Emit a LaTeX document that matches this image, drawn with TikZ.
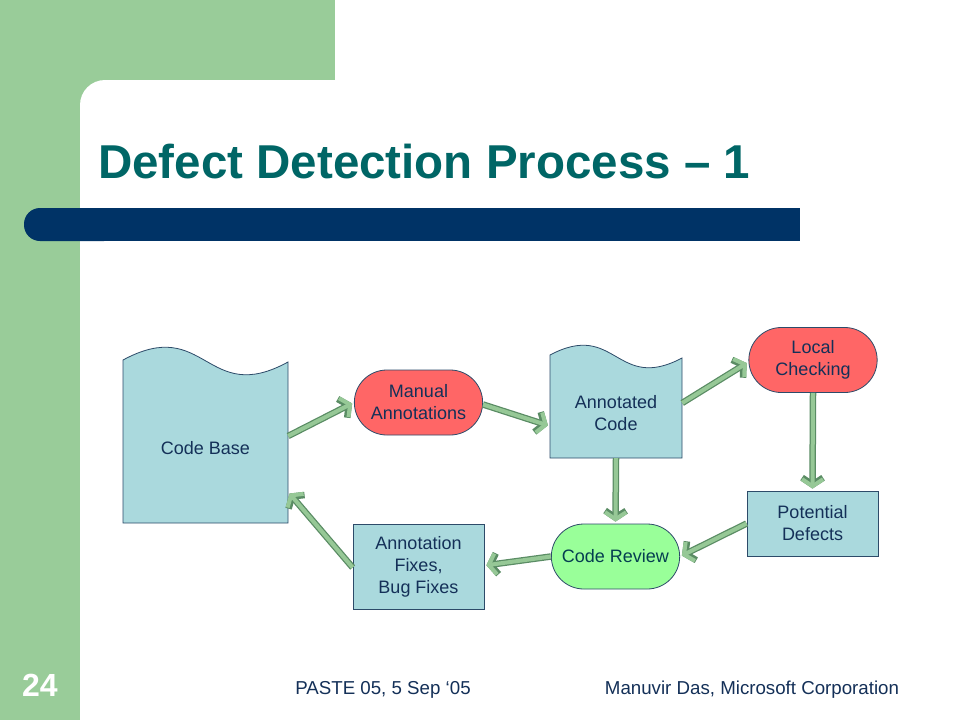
\documentclass[tikz,border=0pt]{standalone}
\usepackage{fontspec}
\setmainfont{Liberation Sans}
\usetikzlibrary{arrows.meta}
\usetikzlibrary{calc}
\usetikzlibrary{shapes.misc}

\definecolor{slidegreen}{RGB}{153,204,153}
\definecolor{barblue}{RGB}{0,51,102}
\definecolor{titleteal}{RGB}{0,102,102}
\definecolor{boxblue}{RGB}{170,217,221}
\definecolor{edgeblue}{RGB}{45,75,105}
\definecolor{termred}{RGB}{255,102,102}
\definecolor{termgreen}{RGB}{153,255,153}
\definecolor{arrowfill}{RGB}{150,200,150}
\definecolor{arrowedge}{RGB}{90,140,100}
\definecolor{textblue}{RGB}{20,48,88}

\tikzset{
    boxnode/.style={rectangle,draw=edgeblue,fill=boxblue,line width=0.8pt,align=center,
        text=textblue,font=\fontsize{18}{22}\selectfont},
    termnode/.style={rounded rectangle,draw=edgeblue,line width=0.8pt,align=center,
        minimum width=135pt,minimum height=65pt,text=textblue,font=\fontsize{18}{22}\selectfont},
    docfill/.style={draw=edgeblue,fill=boxblue,line width=0.8pt},
    flow/.style={preaction={draw=arrowedge,line width=6.5pt,-{Straight Barb[length=7pt,width=21pt]}},
        draw=arrowfill,line width=4pt,-{Straight Barb[length=7pt,width=21pt]},shorten >=2pt}
}

\begin{document}
\begin{tikzpicture}[x=1pt,y=-1pt]
        \useasboundingbox (0,0) rectangle (960,720);
        % slide background
        \fill[slidegreen] (0,0) rectangle (335,720);
        \fill[white,rounded corners=25pt] (80,80) rectangle (1000,760);
        \fill[barblue,rounded corners=16pt] (24,208) rectangle (120,241);
        \fill[barblue] (60,208) rectangle (800,241);
        \node[anchor=base west,text=titleteal,font=\fontsize{47.5}{50}\bfseries\selectfont,inner sep=0pt] (title) at (98,178) {Defect Detection Process -- 1};

        % document shapes
        \fill[docfill] (123,523) -- (123,360) .. controls (206,315) and (206,407) .. (288,362) -- (288,523) -- cycle;
        \fill[docfill] (550,458) -- (550,355) .. controls (616,320) and (616,393) .. (682,358) -- (682,458) -- cycle;
        \node[minimum width=165pt,minimum height=176pt] (CB) at (205.5,435) {};
        \node[text=textblue,font=\fontsize{18}{22}\selectfont] (CBt) at (205.5,448) {Code Base};
        \node[minimum width=132pt,minimum height=110pt] (AC) at (616,403) {};
        \node[align=center,text=textblue,font=\fontsize{18}{22}\selectfont] (ACt) at (616,413) {Annotated\\Code};

        \node[termnode,fill=termred] (MA) at (418.5,402.5) {Manual\\Annotations};
        \node[termnode,fill=termred] (LC) at (813,360) {Local\\Checking};
        \node[termnode,fill=termgreen,text={rgb,255:red,5;green,62;blue,80}] (CR) at (615.5,556.5) {Code Review};
        \node[boxnode,minimum width=131pt,minimum height=65pt] (PD) at (812.5,523.5) {Potential\\Defects};
        \node[boxnode,minimum width=131pt,minimum height=85pt] (AF) at (418.5,566.5) {Annotation\\Fixes,\\Bug Fixes};

        \draw[flow] ($(CB.east)+(0,1)$) -- (MA.west);
        \draw[flow] ($(MA.east)+(0,2)$) -- ($(AC.west)+(0,23)$);
        \draw[flow] (AC.east) -- ($(LC.west)+(0,2)$);
        \draw[flow] (LC.south) -- (PD.north);
        \draw[flow] (PD.west) -- (CR.east);
        \draw[flow] (AC.south) -- (CR.north);
        \draw[flow] (CR.west) -- ($(AF.east)+(0,-1)$);
        \draw[flow] ($(AF.west)+(0,1)$) -- ($(CB.east)+(0,57)$);

        % footer
        \node[text=white,font=\fontsize{32}{32}\bfseries\selectfont] (num) at (40,685) {24};
        \node[text=textblue,font=\fontsize{18.7}{22}\selectfont] (conf) at (383,690) {PASTE 05, 5 Sep ‘05};
        \node[text=textblue,font=\fontsize{18.7}{22}\selectfont] (auth) at (752,690) {Manuvir Das, Microsoft Corporation};
    \end{tikzpicture}
\end{document}
